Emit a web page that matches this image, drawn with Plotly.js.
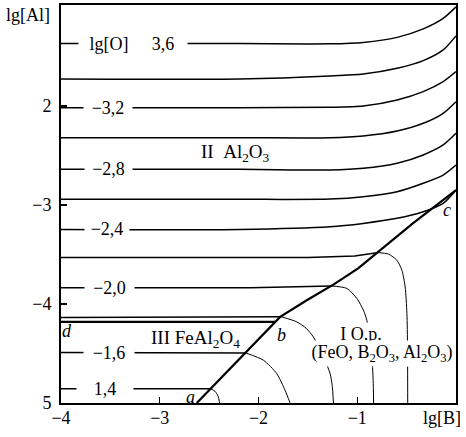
<!DOCTYPE html>
<html>
<head>
<meta charset="utf-8">
<script src="https://cdn.plot.ly/plotly-3.0.1.min.js"></script>
<style>
  body { margin: 0; background: #fff; }
  #graph { width: 466px; height: 437px; }
</style>
</head>
<body>
<div id="graph"></div>
<script>
// lg[B] / lg[Al]
// region II isolines of lg[O] (run to the right border)
var lgB_top = [-4, -2.19, -1.275, -0.94, -0.596, -0.332, -0.13, 0];
var o36_y = [-1.370, -1.370, -1.372, -1.358, -1.307, -1.221, -1.115, -0.999];
var o34_y = [-1.727, -1.727, -1.697, -1.677, -1.619, -1.542, -1.434, -1.292];
var o32_y = [-2.017, -2.017, -2.013, -2.000, -1.939, -1.855, -1.754, -1.653];
var o30_y = [-2.321, -2.321, -2.321, -2.303, -2.253, -2.175, -2.074, -1.957];
var o28_y = [-2.640, -2.640, -2.647, -2.630, -2.579, -2.495, -2.394, -2.276];
var o26_y = [-2.943, -2.943, -2.940, -2.917, -2.866, -2.781, -2.698, -2.597];
var o24_y = [-3.247, -3.247, -3.220, -3.186, -3.135, -3.069, -2.984, -2.849];

// isolines that stop on the a-b-c boundary
var o22_x = [-4, -1.5, -1.025, -0.801];
var o22_y = [-3.530, -3.530, -3.515, -3.482];
var o20_x = [-4, -2.085, -1.264];
var o20_y = [-3.837, -3.837, -3.818];
var o18_x = [-4, -1.764];
var o18_y = [-4.137, -4.130];
var o16_x = [-4, -2.126];
var o16_y = [-4.490, -4.496];
var o14_x = [-4, -2.483];
var o14_y = [-4.856, -4.856];

// region I continuation (thin)
var o22r_x = [-0.801, -0.684, -0.599, -0.548, -0.515, -0.497, -0.491, -0.489];
var o22r_y = [-3.481, -3.496, -3.558, -3.658, -3.827, -4.096, -4.434, -5];
var o20r_x = [-1.264, -1.105, -1.004, -0.937, -0.903, -0.869, -0.849, -0.839, -0.834];
var o20r_y = [-3.818, -3.843, -3.944, -4.063, -4.164, -4.366, -4.568, -4.770, -5];
var o18r_x = [-1.764, -1.612, -1.518, -1.444, -1.393, -1.335, -1.275, -1.254, -1.241];
var o18r_y = [-4.130, -4.181, -4.245, -4.333, -4.434, -4.548, -4.703, -4.821, -5];
var o16r_x = [-2.126, -1.950, -1.815, -1.731, -1.680];
var o16r_y = [-4.496, -4.568, -4.703, -4.872, -5];
var o14r_x = [-2.483, -2.440, -2.409, -2.394];
var o14r_y = [-4.856, -4.882, -4.932, -5];

// phase boundaries a-b-c and d-b
var abc_x = [-2.625, -1.781, -1.511, -1.234, -0.991, -0.801, -0.434, 0];
var abc_y = [-5, -4.130, -3.962, -3.800, -3.640, -3.485, -3.183, -2.849];
var db_x = [-4, -1.830];
var db_y = [-4.181, -4.181];

var isoText = ["3,6", "\u22123,2", "\u22122,8", "\u22122,4", "\u22122,0", "\u22121,6", "1,4"];
var xTickVals = [-4, -3, -2, -1];
var xTickText = ["\u22124", "\u22123", "\u22122", "\u22121"];
var yTickVals = [-5, -4, -3, -2];
var yTickText = ["5", "\u22124", "\u22123", "2"];

var serif = "Liberation Serif, Times New Roman, serif";

function line(x, y, w, curved) {
  return {
    x: x,
    y: y,
    mode: "lines",
    line: curved
      ? { color: "black", width: w, shape: "spline", smoothing: 0.7 }
      : { color: "black", width: w },
    hoverinfo: "skip",
  };
}

var traces = [
  line(lgB_top, o36_y, 1.5, true),
  line(lgB_top, o34_y, 1.5, true),
  line(lgB_top, o32_y, 1.5, true),
  line(lgB_top, o30_y, 1.5, true),
  line(lgB_top, o28_y, 1.5, true),
  line(lgB_top, o26_y, 1.5, true),
  line(lgB_top, o24_y, 1.5, true),
  line(o22_x, o22_y, 1.5),
  line(o20_x, o20_y, 1.5),
  line(o18_x, o18_y, 1.5),
  line(o16_x, o16_y, 1.5),
  line(o14_x, o14_y, 1.5),
  line(o22r_x, o22r_y, 1, true),
  line(o20r_x, o20r_y, 1, true),
  line(o18r_x, o18r_y, 1, true),
  line(o16r_x, o16r_y, 1, true),
  line(o14r_x, o14r_y, 1, true),
  line(abc_x, abc_y, 2.2),
  line(db_x, db_y, 2.2),
];

function lab(x, y, text, w, size, italic) {
  var a = {
    x: x,
    y: y,
    xref: "x",
    yref: "y",
    xanchor: "center",
    yanchor: "middle",
    text: text,
    showarrow: false,
    font: { family: serif, size: size || 18, color: "black" },
  };
  if (italic) a.font.style = "italic";
  if (w) {
    a.width = w;
    a.bgcolor = "white";
  }
  return a;
}

var annotations = [
  lab(-3.51, o36_y[0], "lg[O]", 58),
  lab(-2.965, o36_y[0], isoText[0], 46),
  lab(-3.524, o32_y[0], isoText[1], 46),
  lab(-3.519, o28_y[0], isoText[2], 45),
  lab(-3.534, o24_y[0], isoText[3], 42),
  lab(-3.509, o20_y[0], isoText[4], 47),
  lab(-3.514, o16_y[0], isoText[5], 48),
  lab(-3.55, o14_y[0], isoText[6], 54),
  lab(-2.237, -2.475, "II\u00a0\u00a0Al<sub>2</sub>O<sub>3</sub>", 0, 19),
  lab(-2.642, -4.356, "III FeAl<sub>2</sub>O<sub>4</sub>", 0, 19),
  lab(-0.96, -4.305, "I O.p.", 44),
  lab(-0.751, -4.503, "(FeO, B<sub>2</sub>O<sub>3</sub>, Al<sub>2</sub>O<sub>3</sub>)", 142),
  lab(-2.693, -4.942, "a", 0, 18, true),
  lab(-1.771, -4.31, "b", 0, 18, true),
  lab(-0.089, -3.052, "c", 0, 18, true),
  lab(-3.939, -4.275, "d", 0, 18, true),
  {
    x: -0.0835, y: 0.975, xref: "paper", yref: "paper",
    xanchor: "center", yanchor: "middle",
    text: "lg[Al]", showarrow: false,
    font: { family: serif, size: 18, color: "black" },
  },
  {
    x: 0.9646, y: -0.0377, xref: "paper", yref: "paper",
    xanchor: "center", yanchor: "middle",
    text: "lg[B]", showarrow: false,
    font: { family: serif, size: 18, color: "black" },
  },
];

Plotly.newPlot(
  "graph",
  traces,
  {
    width: 466,
    height: 437,
    margin: { l: 61, r: 10, t: 5, b: 34 },
    paper_bgcolor: "white",
    plot_bgcolor: "white",
    showlegend: false,
    hovermode: false,
    xaxis: {
      range: [-4, 0],
      tickvals: xTickVals,
      ticktext: xTickText,
      ticks: "inside",
      ticklen: 6,
      tickwidth: 1,
      tickcolor: "black",
      showline: true,
      linewidth: 2,
      linecolor: "black",
      mirror: true,
      showgrid: false,
      zeroline: false,
      ticklabelstandoff: -3,
      tickfont: { family: serif, size: 18, color: "black" },
      fixedrange: true,
    },
    yaxis: {
      range: [-5, -0.98],
      tickvals: yTickVals,
      ticktext: yTickText,
      ticks: "inside",
      ticklen: 6,
      tickwidth: 2,
      tickcolor: "black",
      showline: true,
      linewidth: 2,
      linecolor: "black",
      mirror: true,
      showgrid: false,
      zeroline: false,
      ticklabelstandoff: 4,
      tickfont: { family: serif, size: 18, color: "black" },
      fixedrange: true,
    },
    annotations: annotations,
  },
  { displayModeBar: false }
);
</script>
</body>
</html>
